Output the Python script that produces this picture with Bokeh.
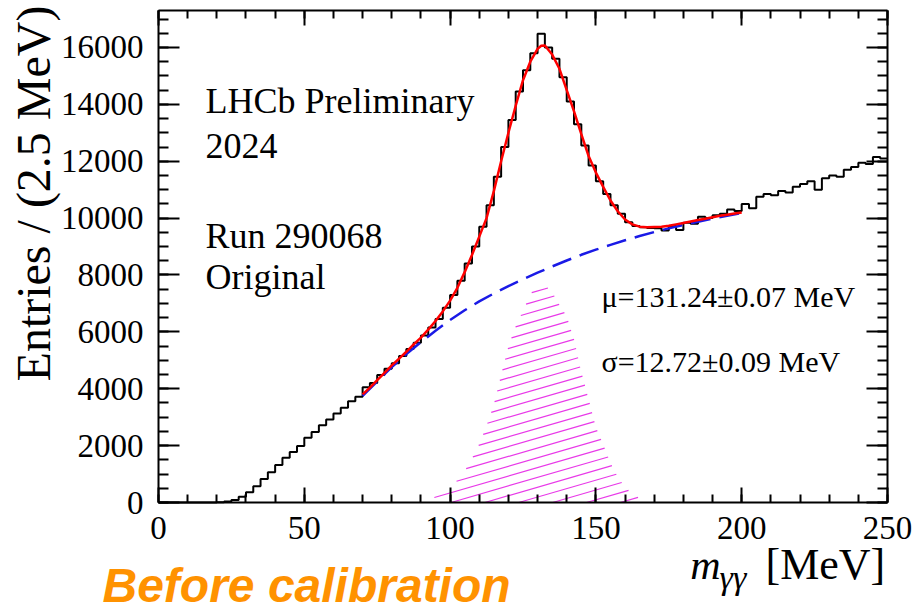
import numpy as np
from bokeh.plotting import figure
from bokeh.models import Label, LinearAxis, FixedTicker, Range1d, CustomJSTickFormatter
from bokeh.embed import file_html
from bokeh.resources import INLINE

# ---------------- data ----------------
bin_width = 2.5
hist_counts = [
    0, 0, 0, 0, 0, 0, 0, 0, 10, 35,
    90, 200, 360, 570, 830, 1060, 1320, 1570, 1780, 1990,
    2280, 2480, 2720, 2920, 3130, 3330, 3560, 3720, 4050, 4200,
    4480, 4700, 4900, 5150, 5400, 5620, 5870, 6150, 6450, 6850,
    7300, 7800, 8400, 9000, 9700, 10450, 11450, 12500, 13450, 14450,
    15200, 15800, 16480, 16000, 15600, 14950, 14100, 13300, 12550, 11850,
    11300, 10850, 10450, 10150, 9850, 9720, 9680, 9650, 9640, 9560,
    9720, 9580, 9840, 9800, 10050, 10000, 10100, 10150, 10300, 10250,
    10500, 10350, 10750, 10850, 10800, 10950, 10900, 11100, 11200, 11300,
    11000, 11400, 11500, 11450, 11700, 11800, 11950, 11900, 12150, 12100,
]

fit_x = [70, 72.5, 75, 77.5, 80, 82.5, 85, 87.5, 90, 92.5, 95, 97.5, 100, 102.5, 105,
         107.5, 110, 112.5, 115, 117.5, 120, 122.5, 125, 127.5, 130, 131.25, 132.5, 135,
         137.5, 140, 142.5, 145, 147.5, 150, 152.5, 155, 157.5, 160, 162.5, 165, 167.5,
         170, 172.5, 175, 177.5, 180, 182.5, 185, 187.5, 190, 192.5, 195, 197.5, 200]
fit_y = [3800, 4040, 4300, 4560, 4820, 5060, 5300, 5560, 5800, 6080, 6380, 6720, 7100, 7550, 8100,
         8700, 9350, 10000, 10950, 12000, 13000, 13950, 14850, 15500, 15950, 16060, 16070, 15750,
         15250, 14500, 13750, 12950, 12180, 11600, 11100, 10620, 10240, 9950, 9780, 9700, 9680,
         9690, 9700, 9730, 9780, 9830, 9880, 9930, 9980, 10030, 10080, 10120, 10160, 10200]

bkg_x = [70, 75, 80, 85, 90, 95, 100, 105, 110, 115, 120, 125, 130, 135, 140, 145, 150,
         155, 160, 165, 170, 175, 180, 185, 190, 195, 200]
bkg_y = [3750, 4260, 4760, 5220, 5640, 6040, 6420, 6760, 7070, 7350, 7610, 7850, 8080, 8300,
         8510, 8710, 8890, 9060, 9220, 9370, 9510, 9640, 9760, 9870, 9980, 10080, 10180]

sig_x = [90, 92.5, 95, 97.5, 100, 102.5, 105, 107.5, 110, 112.5, 115, 117.5, 120, 122.5, 125,
         127.5, 130, 132.5, 135, 137.5, 140, 142.5, 145, 147.5, 150, 152.5, 155, 157.5, 160,
         162.5, 165, 167.5, 170]
sig_y = [0, 50, 200, 330, 520, 780, 1100, 1550, 2050, 2700, 3450, 4500, 5500, 6200, 6750,
         7300, 7700, 7650, 7400, 6950, 6550, 5750, 4600, 3650, 2650, 2050, 1400, 900, 550,
         300, 150, 50, 0]

x_major = [0, 50, 100, 150, 200, 250]
y_major = [0, 2000, 4000, 6000, 8000, 10000, 12000, 14000, 16000]
x_lim = (0, 250)
y_lim = (0, 17300)

# ---------------- layout geometry (pixels) ----------------
W, H = 921, 611
FL, FR, FT, FB = 158, 887, 10, 502   # where the drawn axes box sits
xs = (x_lim[1] - x_lim[0]) / (FR - FL)
ys = (y_lim[1] - y_lim[0]) / (FB - FT)
x_range = Range1d(x_lim[0] - FL * xs, x_lim[1] + (W - FR) * xs)
y_range = Range1d(y_lim[0] - (H - FB) * ys, y_lim[1] + FT * ys)

p = figure(width=W, height=H, x_range=x_range, y_range=y_range,
           output_backend="svg", toolbar_location=None, title=None,
           min_border=0, min_border_left=0, min_border_right=0,
           min_border_top=0, min_border_bottom=0)
p.xgrid.visible = False
p.ygrid.visible = False
p.outline_line_color = None
p.background_fill_color = "white"
p.border_fill_color = "white"

FONT = "Liberation Serif"

def style_axis(ax, ticks, minor, tick_len, minor_len, show_labels, loc, bounds, standoff=10):
    ax.ticker = FixedTicker(ticks=ticks, minor_ticks=minor)
    ax.fixed_location = loc
    ax.bounds = bounds
    ax.axis_line_width = 2
    ax.axis_line_color = "black"
    ax.major_tick_line_width = 2
    ax.minor_tick_line_width = 2
    ax.major_tick_in = tick_len
    ax.major_tick_out = 0
    ax.minor_tick_in = minor_len
    ax.minor_tick_out = 0
    ax.axis_label = None
    if show_labels:
        ax.major_label_text_font = FONT
        ax.major_label_text_font_size = "33px"
        ax.major_label_text_color = "black"
        ax.major_label_standoff = standoff
    else:
        ax.formatter = CustomJSTickFormatter(code="return ''")
        ax.major_label_standoff = 0

x_minor = list(range(0, 251, 10))
y_minor = list(range(0, 17301, 500))

style_axis(p.xaxis[0], x_major, x_minor, 15, 8, True, y_lim[0], x_lim, 14)
style_axis(p.yaxis[0], y_major, y_minor, 21, 10, True, x_lim[0], y_lim, 15)
top_ax = LinearAxis()
style_axis(top_ax, x_major, x_minor, 15, 8, False, y_lim[1], x_lim)
p.add_layout(top_ax, "above")
right_ax = LinearAxis()
style_axis(right_ax, y_major, y_minor, 21, 10, False, x_lim[1], y_lim)
p.add_layout(right_ax, "right")

# ---------------- signal hatching ----------------
sm = np.array(sig_x, dtype=float)
sn = np.array(sig_y, dtype=float)
mm = np.arange(sm[0], sm[-1] + 1e-9, 0.05)
ss = np.interp(mm, sm, sn)
slope = 29.7      # entries per MeV  (~16 deg on screen)
spacing = 345.0   # entries between hatch lines
hx, hy = [], []
for c in np.arange(-slope * (sm[-1] - sm[0]), sn.max() + spacing, spacing):
    nn = c + slope * (mm - sm[0])
    inside = (nn >= 0) & (nn <= ss)
    edges = np.flatnonzero(np.diff(np.concatenate([[0], inside.astype(int), [0]])))
    for a, b in zip(edges[::2], edges[1::2]):
        if b - 1 > a:
            hx.append([mm[a], mm[b - 1]])
            hy.append([nn[a], nn[b - 1]])
p.multi_line(hx, hy, line_color="#E83AE8", line_width=1.2)

# ---------------- histogram ----------------
counts = np.array(hist_counts, dtype=float)
edges_x = x_lim[0] + np.arange(len(counts) + 1) * bin_width
p.step(edges_x, np.append(counts, counts[-1]), mode="after", line_color="black", line_width=2)

# ---------------- fits ----------------
p.line(bkg_x, bkg_y, line_color="#1A1AE6", line_width=2.5, line_dash="20 9")
p.line(fit_x, fit_y, line_color="#FF0000", line_width=2.5)

# ---------------- texts ----------------
BASE_SHIFT = 0.36   # rendered baseline sits this many em below the anchor

def px2x(px):
    return x_lim[0] + (px - FL) * xs

def py2y(py):
    return y_lim[0] + (FB - py) * ys

def add_text(txt, px, py, size, align="left", font=FONT, style="normal", color="black", rotated=False):
    s = float(size.replace("px", ""))
    if rotated:
        px -= BASE_SHIFT * s
        angle = np.pi / 2
    else:
        py -= BASE_SHIFT * s
        angle = 0.0
    p.add_layout(Label(x=px2x(px), y=py2y(py), text=txt, text_font=font, text_font_size=size,
                       text_font_style=style, text_color=color, text_align=align,
                       text_baseline="alphabetic", angle=angle))

add_text("LHCb Preliminary", 205, 113, "36px")
add_text("2024", 205, 158, "36px")
add_text("Run 290068", 205, 248, "36px")
add_text("Original", 205, 289, "36px")
add_text("\u03bc=131.24\u00b10.07 MeV", 601, 307, "30px")
add_text("\u03c3=12.72\u00b10.09 MeV", 601, 372, "30px")

add_text("Entries / (2.5 MeV)", 50, 5, "48px", align="right", rotated=True)

add_text("m", 720, 580, "42px", align="right", style="italic")
add_text("\u03b3\u03b3", 719, 589, "34px", align="left", style="italic")
add_text("[MeV]", 765, 580, "44px", align="left")

add_text("Before calibration", 102, 602, "48px", font="Liberation Sans",
         style="bold italic", color="#FF9200")

open("out.html", "w").write(file_html(p, INLINE))
